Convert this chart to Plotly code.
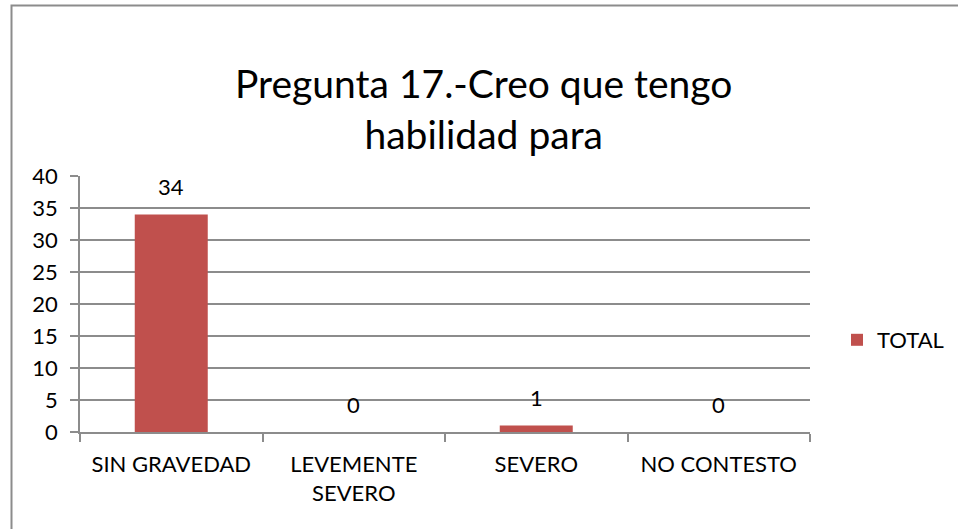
import plotly.graph_objects as go

categorias = ["SIN GRAVEDAD", "LEVEMENTE<br>SEVERO", "SEVERO", "NO CONTESTO"]
total = [34, 0, 1, 0]
titulo = "Pregunta 17.-Creo que tengo<br>habilidad para"

W, H = 958, 529
L, R, T, B = 80, 148, 176, 97
pw, ph = W - L - R, H - T - B

FONT = "Lato, Noto Sans, sans-serif"
GRID = "#8c8c8c"
FS = 22

fig = go.Figure(
    go.Bar(
        x=categorias,
        y=total,
        name="TOTAL",
        marker=dict(color="#c0504d", line=dict(width=0)),
        width=0.4,
    )
)

def px_x(p):
    return (p - L) / pw

def px_y(p):
    return (H - B - p) / ph

# value labels above each bar
for c, v in zip(categorias, total):
    fig.add_annotation(
        x=c, y=v, text=str(v), showarrow=False,
        yanchor="middle", yshift=28,
        font=dict(size=FS, family=FONT, color="#000000"),
    )

# chart title
fig.add_annotation(
    xref="paper", yref="paper",
    x=px_x(484), y=px_y(108),
    xanchor="center", yanchor="middle",
    text=titulo, showarrow=False,
    font=dict(size=39, family=FONT, color="#000000"),
)

fig.update_layout(
    width=W,
    height=H,
    margin=dict(l=L, r=R, t=T, b=B, autoexpand=False),
    paper_bgcolor="white",
    plot_bgcolor="white",
    font=dict(family=FONT, size=FS, color="#000000"),
    showlegend=True,
    legend=dict(
        xref="container",
        yref="container",
        x=837 / W,
        y=1 - 340 / H,
        xanchor="left",
        yanchor="middle",
        font=dict(size=FS, family=FONT),
        itemwidth=30,
        bgcolor="rgba(0,0,0,0)",
    ),
    shapes=[
        dict(
            type="rect",
            xref="paper",
            yref="paper",
            x0=px_x(11.5),
            x1=px_x(W + 10),
            y0=px_y(H + 10),
            y1=px_y(5.5),
            line=dict(color="#8c8c8c", width=2),
            fillcolor="rgba(0,0,0,0)",
            layer="below",
        )
    ],
)

fig.update_xaxes(
    showgrid=False,
    showline=True,
    linecolor=GRID,
    linewidth=1.5,
    ticks="outside",
    tickcolor=GRID,
    ticklen=8,
    tickwidth=1.5,
    tickson="boundaries",
    ticklabelstandoff=12,
    tickfont=dict(size=FS, family=FONT),
)

fig.update_yaxes(
    range=[0, 40],
    dtick=5,
    showgrid=True,
    gridcolor=GRID,
    gridwidth=1.5,
    showline=True,
    linecolor=GRID,
    linewidth=1.5,
    ticks="outside",
    tickcolor=GRID,
    ticklen=8,
    tickwidth=1.5,
    ticklabelstandoff=8,
    tickfont=dict(size=FS, family=FONT),
    zeroline=False,
)

fig.write_html("out.html")
